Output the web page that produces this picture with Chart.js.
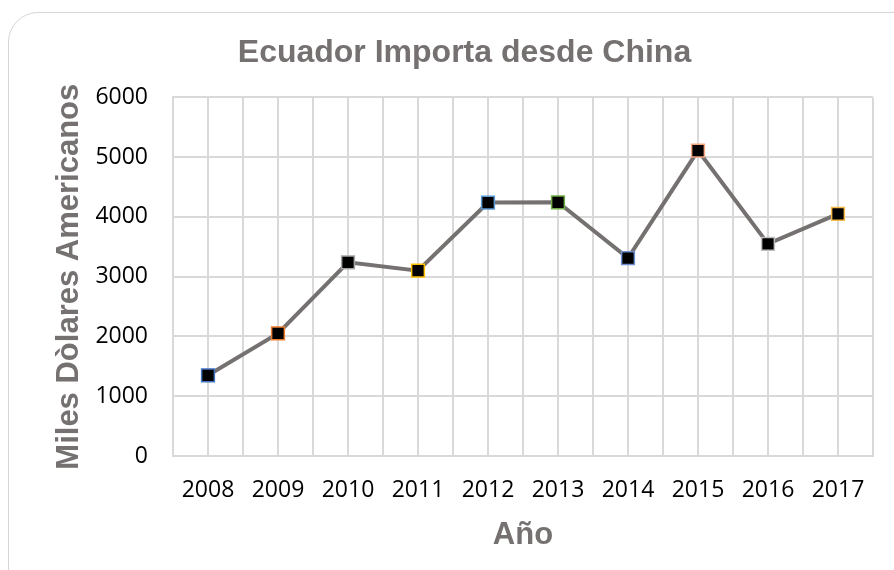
<!DOCTYPE html>
<html>
<head>
<meta charset="utf-8">
<script src="https://cdn.jsdelivr.net/npm/chart.js@4"></script>
<style>
  body { margin: 0; background: #fff; }
  #wrap { position: relative; width: 894px; height: 570px; overflow: hidden; }
  #frame { position: absolute; left: 8px; top: 12px; width: 920px; height: 600px;
           border: 1.5px solid #d6d6d6; border-radius: 30px; box-sizing: border-box; }
  canvas { position: absolute; left: 0; top: 0; }
</style>
</head>
<body>
<div id="wrap">
  <div id="frame"></div>
  <canvas id="chart" width="894" height="570"></canvas>
</div>
<script>
const years = [2008, 2009, 2010, 2011, 2012, 2013, 2014, 2015, 2016, 2017];
const imports = [1350, 2050, 3240, 3100, 4240, 4245, 3310, 5110, 3550, 4050];
const markerBorders = ["#4472c4", "#ed7d31", "#a5a5a5", "#ffc000", "#5b9bd5",
                       "#70ad47", "#6f8fcf", "#f4a582", "#bfbfbf", "#f5b945"];
const yTicks = [0, 1000, 2000, 3000, 4000, 5000, 6000];

const gridColor = "#d9d9d9";
const titleColor = "#767171";
const titleFont = { family: "Liberation Sans", size: 31, weight: "bold" };
const tickFont = { family: "Open Sans", size: 23 };

new Chart(document.getElementById("chart"), {
  type: "line",
  data: {
    datasets: [{
      data: years.map((y, i) => ({ x: y, y: imports[i] })),
      borderColor: "#767171",
      borderWidth: 4,
      tension: 0,
      pointStyle: "rect",
      pointRadius: 9,
      pointBackgroundColor: "#000",
      pointBorderColor: markerBorders,
      pointBorderWidth: 1.5,
    }],
  },
  options: {
    responsive: false,
    animation: false,
    layout: { padding: { left: 51, right: 16, top: 34, bottom: 16 } },
    plugins: {
      legend: { display: false },
      tooltip: { enabled: false },
      title: {
        display: true,
        text: "Ecuador Importa desde China",
        color: titleColor,
        font: { family: "Liberation Sans", size: 32, weight: "bold" },
        padding: { top: 0, bottom: 25 },
      },
    },
    scales: {
      x: {
        type: "linear",
        min: years[0] - 0.5,
        max: years[years.length - 1] + 0.5,
        afterBuildTicks: (axis) => {
          const t = [];
          for (let v = years[0] - 0.5; v <= years[years.length - 1] + 0.5; v += 0.5) t.push({ value: v });
          axis.ticks = t;
        },
        afterFit: (axis) => { axis.height = 98; },
        grid: { color: gridColor, lineWidth: 2, drawTicks: false },
        border: { color: gridColor, width: 2 },
        ticks: {
          autoSkip: false,
          maxRotation: 0,
          padding: 21,
          color: "#000",
          font: tickFont,
          callback: (v) => (Number.isInteger(v) && years.includes(v) ? String(v) : ""),
        },
        title: {
          display: true,
          text: "Año",
          color: titleColor,
          font: titleFont,
          padding: { top: 12, bottom: 0 },
        },
      },
      y: {
        min: yTicks[0],
        max: yTicks[yTicks.length - 1],
        afterBuildTicks: (axis) => { axis.ticks = yTicks.map((v) => ({ value: v })); },
        afterFit: (axis) => { axis.width = 122; },
        grid: { color: gridColor, lineWidth: 2, drawTicks: false },
        border: { color: gridColor, width: 2 },
        ticks: {
          padding: 25,
          color: "#000",
          font: tickFont,
          callback: (v) => String(v),
        },
        title: {
          display: true,
          text: "Miles Dòlares Americanos",
          color: titleColor,
          font: titleFont,
          padding: { top: 0, bottom: 6 },
        },
      },
    },
  },
});
</script>
</body>
</html>
